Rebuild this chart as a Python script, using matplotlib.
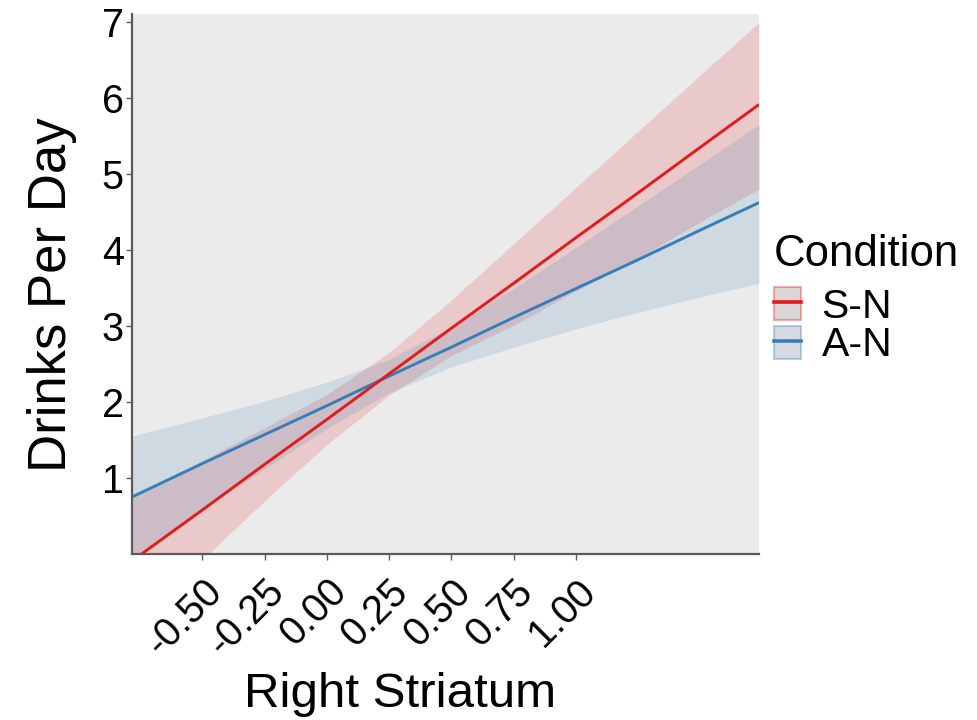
import matplotlib
matplotlib.use("Agg")
import matplotlib.pyplot as plt
from matplotlib.patches import Patch
from matplotlib.lines import Line2D
from matplotlib.legend_handler import HandlerTuple

plt.rcParams['font.family'] = ['Liberation Sans', 'DejaVu Sans']

# Fitted lines and 95% confidence bands, Right Striatum vs Drinks Per Day
x_grid = [-0.783, -0.5, -0.25, 0.0, 0.25, 0.5, 0.75, 1.0, 1.25, 1.5, 1.735]
sn_fit = [-0.09, 0.58, 1.18, 1.77, 2.37, 2.97, 3.56, 4.16, 4.75, 5.35, 5.91]
sn_lower = [-0.93, -0.07, 0.70, 1.44, 2.09, 2.61, 3.01, 3.46, 3.89, 4.37, 4.80]
sn_upper = [0.75, 1.23, 1.66, 2.10, 2.65, 3.34, 4.08, 4.82, 5.56, 6.30, 6.99]
an_fit = [0.75, 1.19, 1.57, 1.95, 2.34, 2.72, 3.11, 3.49, 3.87, 4.26, 4.62]
an_lower = [-0.04, 0.58, 1.12, 1.65, 2.12, 2.46, 2.72, 2.96, 3.18, 3.38, 3.56]
an_upper = [1.55, 1.79, 2.01, 2.26, 2.56, 2.98, 3.49, 4.03, 4.58, 5.13, 5.65]

conditions = ["S-N", "A-N"]
x_ticks = [-0.50, -0.25, 0.00, 0.25, 0.50, 0.75, 1.00]
x_tick_labels = ["-0.50", "-0.25", "0.00", "0.25", "0.50", "0.75", "1.00"]
y_ticks = [1, 2, 3, 4, 5, 6, 7]

RED = "#E41A1C"
BLUE = "#377EB8"
AXIS_GREY = "#5a5a5a"

fig = plt.figure(figsize=(9.77, 7.2), dpi=100)
ax = fig.add_axes([132 / 977, 1 - 554 / 720, 627 / 977, 540 / 720])
ax.set_facecolor("#EBEBEB")

# confidence ribbons
ax.fill_between(x_grid, sn_lower, sn_upper, color=RED, alpha=0.16, lw=0)
ax.fill_between(x_grid, an_lower, an_upper, color=BLUE, alpha=0.16, lw=0)
# fitted lines
ax.plot(x_grid, an_fit, color=BLUE, lw=2.1, solid_capstyle="butt")
ax.plot(x_grid, sn_fit, color=RED, lw=2.1, solid_capstyle="butt")

ax.set_xlim(-0.783, 1.735)
ax.set_ylim(0, 7.1)

for side in ("top", "right"):
    ax.spines[side].set_visible(False)
for side in ("left", "bottom"):
    ax.spines[side].set_color(AXIS_GREY)
    ax.spines[side].set_linewidth(1.6)

ax.set_yticks(y_ticks)
ax.set_yticklabels([str(v) for v in y_ticks])
ax.set_xticks(x_ticks)
ax.set_xticklabels(x_tick_labels, rotation=45, ha="right", va="top",
                   rotation_mode="anchor")
ax.tick_params(axis="both", colors=AXIS_GREY, labelcolor="black",
               labelsize=28.5, length=4, width=1.0)
ax.tick_params(axis="y", pad=2)
ax.tick_params(axis="x", pad=9)

ax.set_xlabel("Right Striatum", fontsize=35.5, color="black")
ax.xaxis.set_label_coords(0.4274, -0.2185)
ax.xaxis.label.set_verticalalignment("top")

ax.set_ylabel("Drinks Per Day", fontsize=38, color="black")
ax.yaxis.set_label_coords(-0.128, 0.48)
ax.yaxis.label.set_verticalalignment("center")

# legend title
fig.text(774 / 977, 1 - 266 / 720, "Condition", fontsize=31.5,
         ha="left", va="baseline", color="black")

# legend keys: shaded box with the condition's line across it
key_fill = {"S-N": "#DCD6D9", "A-N": "#D5DBE0"}
key_edge = {"S-N": (0.894, 0.102, 0.110, 0.35), "A-N": (0.216, 0.494, 0.722, 0.35)}
line_col = {"S-N": RED, "A-N": BLUE}
handles = []
for c in conditions:
    box = Patch(facecolor=key_fill[c], edgecolor=key_edge[c], linewidth=1.5)
    ln = Line2D([], [], color=line_col[c], lw=2.6)
    handles.append((box, ln))

leg = fig.legend(handles, conditions,
                 handler_map={tuple: HandlerTuple(ndivide=1, pad=0)},
                 loc="upper left", bbox_to_anchor=(774 / 977, 1 - 287 / 720),
                 frameon=False, fontsize=29.5,
                 handlelength=0.66, handleheight=0.86,
                 handletextpad=0.5, labelspacing=0.0, borderaxespad=0,
                 borderpad=0.0)

fig.savefig("out.png", dpi=100, facecolor="white")
